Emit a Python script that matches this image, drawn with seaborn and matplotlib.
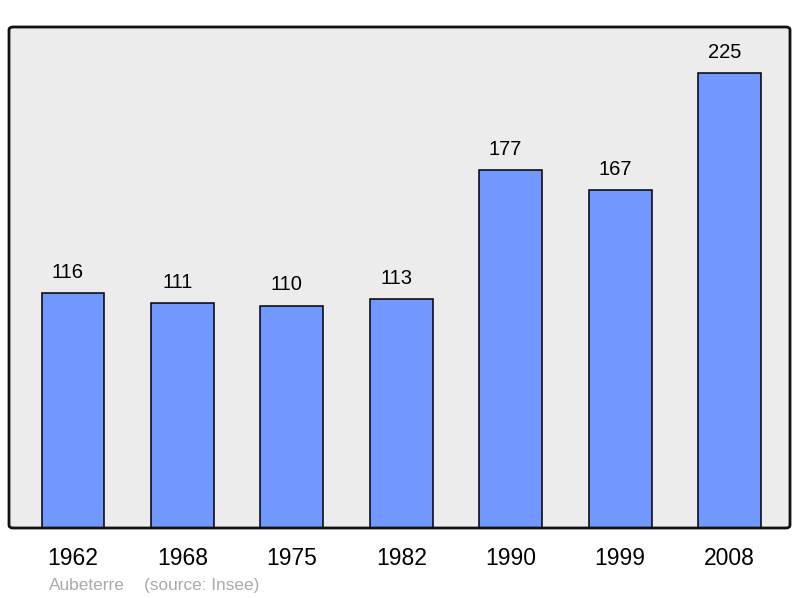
import matplotlib
matplotlib.use("Agg")
import matplotlib.pyplot as plt
import seaborn as sns
import pandas as pd
from matplotlib.patches import FancyBboxPatch

years = ["1962", "1968", "1975", "1982", "1990", "1999", "2008"]
population = [116, 111, 110, 113, 177, 167, 225]
commune = "Aubeterre"
source = "(source: Insee)"

sns.set_theme(style="white")
plt.rcParams['font.family'] = ['Liberation Sans', 'DejaVu Sans']

df = pd.DataFrame({"year": years, "pop": population})

W, H = 800, 598
fig = plt.figure(figsize=(W / 100, H / 100), dpi=100)
L, R, T, B = 9, 790, 27, 528
ax = fig.add_axes([L / W, 1 - B / H, (R - L) / W, (B - T) / H])
ax.set_facecolor("#ececec")

sns.barplot(data=df, x="year", y="pop", order=years, color="#7098ff",
            saturation=1, width=0.575, edgecolor="black", linewidth=1.1, ax=ax)

ax.set_xlim(-0.585, 6.553)
ax.set_ylim(0, 247.7)
for i, v in enumerate(population):
    ax.text(i - 0.046, v + 10.2, str(v), ha="center", va="center", fontsize=14.5, color="black")

ax.set_yticks([])
ax.set_xlabel("")
ax.set_ylabel("")
ax.tick_params(axis="x", length=0, pad=14, labelsize=16.5, colors="black")
for s in ax.spines.values():
    s.set_visible(False)

box = FancyBboxPatch((L / W, 1 - B / H), (R - L) / W, (B - T) / H,
                     boxstyle="round,pad=0,rounding_size=0.005",
                     transform=fig.transFigure, fill=False,
                     edgecolor="#111111", linewidth=2, zorder=10)
fig.patches.append(box)

fig.text(49 / W, 1 - 585.5 / H, commune, ha="left", va="center", fontsize=12.4, color="#aaaaaa")
fig.text(144 / W, 1 - 585.5 / H, source, ha="left", va="center", fontsize=12.4, color="#aaaaaa")

fig.savefig("out.png", dpi=100, facecolor="white")
